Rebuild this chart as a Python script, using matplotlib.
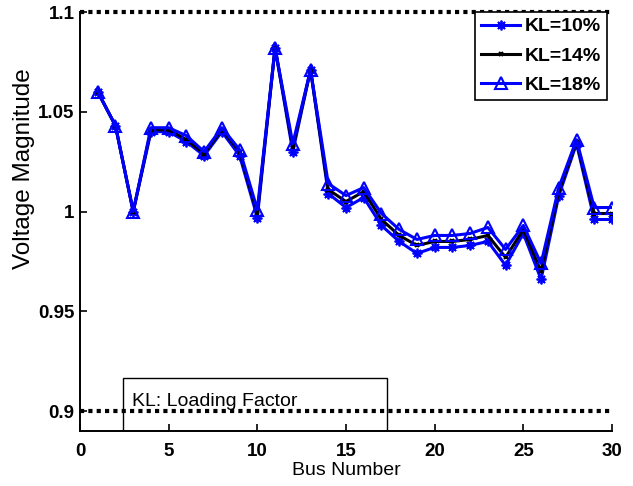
import numpy as np
import matplotlib.pyplot as plt
from matplotlib.patches import Rectangle

plt.rcParams['font.family'] = ['Liberation Sans', 'DejaVu Sans']

bus = np.arange(1, 31)
v_kl10 = [1.060, 1.043, 1.000, 1.040, 1.040, 1.035, 1.028, 1.040, 1.028, 0.997,
          1.082, 1.030, 1.071, 1.009, 1.002, 1.007, 0.993, 0.985, 0.979, 0.982,
          0.982, 0.983, 0.985, 0.973, 0.989, 0.966, 1.008, 1.034, 0.996, 0.996]
v_kl14 = [1.060, 1.043, 1.000, 1.041, 1.041, 1.036, 1.029, 1.041, 1.030, 0.999,
          1.082, 1.032, 1.071, 1.011, 1.005, 1.010, 0.996, 0.988, 0.983, 0.985,
          0.985, 0.986, 0.988, 0.977, 0.991, 0.970, 1.010, 1.035, 0.999, 0.999]
v_kl18 = [1.060, 1.043, 1.000, 1.042, 1.042, 1.038, 1.030, 1.042, 1.031, 1.001,
          1.082, 1.034, 1.071, 1.014, 1.008, 1.012, 0.999, 0.991, 0.986, 0.988,
          0.988, 0.989, 0.992, 0.981, 0.993, 0.974, 1.012, 1.036, 1.002, 1.002]
v_upper = 1.1
v_lower = 0.9

fig = plt.figure(figsize=(6.33, 4.86), dpi=100)
ax = fig.add_axes([0.1264, 0.1132, 0.8404, 0.8621])

ax.axhline(v_upper, color='black', lw=3, ls=(0, (1, 1)), zorder=1, clip_on=False)
ax.axhline(v_lower, color='black', lw=3, ls=(0, (1, 1)), zorder=1)

ax.plot(bus, v_kl10, color='blue', lw=2.2, marker=(8, 2, 0), ms=7, mew=1.3,
        label='KL=10%', zorder=3)
ax.plot(bus, v_kl14, color='black', lw=2.2, marker='x', ms=3, mew=1.5,
        label='KL=14%', zorder=3)
ax.plot(bus, v_kl18, color='blue', lw=2.2, marker='^', ms=9, mew=1.5,
        mfc='none', label='KL=18%', zorder=3)

ax.set_xlim(0, 30)
ax.set_ylim(0.89, 1.1)
ax.set_xticks([0, 5, 10, 15, 20, 25, 30])
ax.set_yticks([0.9, 0.95, 1.0, 1.05, 1.1])
ax.set_yticklabels(['0.9', '0.95', '1', '1.05', '1.1'])
ax.tick_params(direction='in', length=5, width=1.2, labelsize=13.5)
ax.tick_params(axis='x', pad=9)
ax.tick_params(axis='y', pad=4)
for lab in ax.get_xticklabels() + ax.get_yticklabels():
    lab.set_fontweight('bold')
ax.spines['top'].set_visible(False)
ax.spines['right'].set_visible(False)
ax.spines['left'].set_linewidth(1.4)
ax.spines['bottom'].set_linewidth(1.4)

ax.set_xlabel('Bus Number', fontsize=14, labelpad=1)
ax.set_ylabel('Voltage Magnitude', fontsize=17.5)
ax.yaxis.set_label_coords(-0.085, 0.625)

leg = ax.legend(loc='upper right', bbox_to_anchor=(1 - 5 / 532, 1.0), fancybox=False,
                edgecolor='black', framealpha=1, prop={'weight': 'bold', 'size': 14},
                handlelength=2.0, borderaxespad=0, labelspacing=0.6,
                handletextpad=0.25, borderpad=0.3)
leg.get_frame().set_linewidth(1.2)

ax.add_patch(Rectangle((2.43, 0.89), 17.3 - 2.43, 0.9165 - 0.89, fc='white',
                       ec='black', lw=1, zorder=0.5))
ax.text(2.93, 0.9025, 'KL: Loading Factor', fontsize=14, va='baseline', zorder=0.6)

fig.savefig('out.png', dpi=100)
